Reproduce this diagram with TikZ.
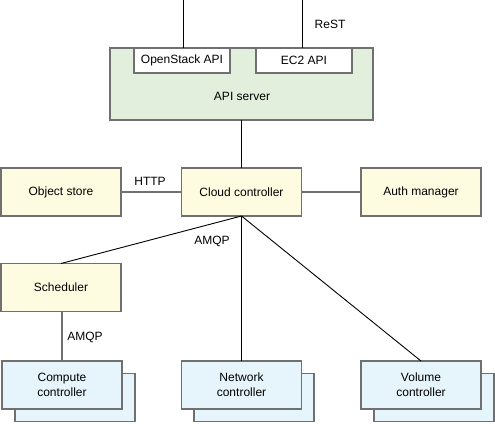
\documentclass[tikz,border=0pt]{standalone}
\usepackage{fontspec}
\setmainfont{Liberation Sans}
\definecolor{bordergray}{HTML}{707070}
\definecolor{greenfill}{HTML}{E1EFDC}
\definecolor{yellowfill}{HTML}{FEFCE0}
\definecolor{bluefill}{HTML}{E6F5FC}
\begin{document}
\begin{tikzpicture}[x=1pt,y=-1pt,
  font=\fontsize{12}{15}\selectfont,
  box/.style={draw=bordergray, line width=1.6pt, rectangle, inner sep=0pt, outer sep=0pt, align=center},
  ybox/.style={box, fill=yellowfill, minimum width=120pt, minimum height=48pt},
  bbox/.style={box, fill=bluefill, minimum width=120pt, minimum height=48pt},
  wbox/.style={box, fill=white, minimum width=96pt, minimum height=25pt},
  conn/.style={draw=black, line width=0.9pt},
  gconn/.style={draw=bordergray, line width=1.6pt},
  lbl/.style={inner sep=0pt}]
\useasboundingbox[fill=white] (0,0) rectangle (495,423);

% API server
\node[box, fill=greenfill, minimum width=263pt, minimum height=72pt] (api) at (241.5,84) {};
\node[lbl] (apitxt) at (242,96) {API server};
\node[wbox] (osapi) at (182,60.5) {OpenStack API};
\node[wbox] (ec2) at (304,60.5) {EC2 API};
\coordinate (top1) at (183,0);
\coordinate (top2) at (302,0);
\draw[conn] (top1) -- (top1 |- osapi.north);
\draw[conn] (top2) -- (top2 |- ec2.north);
\node[lbl] (rest) at (330,24) {ReST};

% middle row
\node[ybox] (cc) at (241.5,192) {Cloud controller};
\node[ybox] (obj) at (61,192) {Object store};
\node[ybox] (auth) at (421,192) {Auth manager};
\node[ybox] (sched) at (61,287.5) {Scheduler};

% bottom stacked boxes
\node[bbox] (compb) at (75,397.5) {};
\node[bbox] (comp) at (62,385) {Compute\\controller};
\node[bbox] (netb) at (254,397.5) {};
\node[bbox] (net) at (241.5,385) {Network\\controller};
\node[bbox] (volb) at (434,397.5) {};
\node[bbox] (vol) at (421,385) {Volume\\controller};

% connectors
\draw[conn] (api.south -| cc.north) -- (cc.north);
\draw[gconn] (obj.east) -- (cc.west);
\draw[gconn] (cc.east) -- (auth.west);
\node[lbl] (http) at (150,181) {HTTP};
\draw[conn] (cc.south) -- (sched.north);
\draw[conn] (cc.south) -- (net.north);
\draw[conn] (cc.south) -- (vol.north);
\node[lbl] (amqp1) at (212,241) {AMQP};
\draw[gconn] (sched.south -| comp.north) -- (comp.north);
\node[lbl] (amqp2) at (85,337) {AMQP};
\end{tikzpicture}
\end{document}
